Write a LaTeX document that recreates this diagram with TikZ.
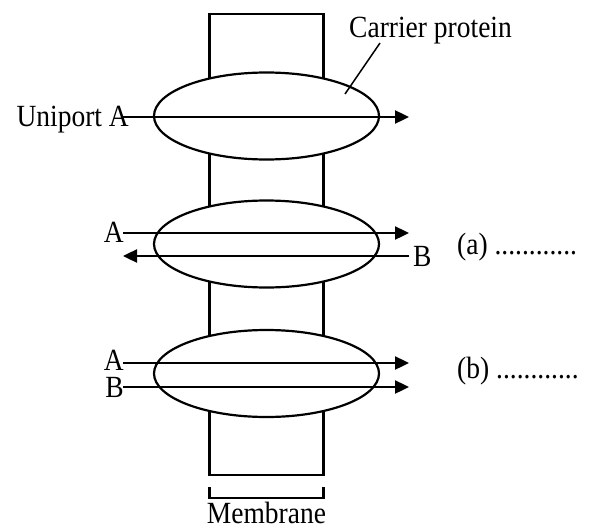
\documentclass[tikz,border=0pt]{standalone}
\usepackage{fontspec}
\setmainfont{Liberation Serif}
\usetikzlibrary{shapes.geometric,arrows.meta}
\newcommand{\tallt}[1]{\scalebox{1}[1.12]{#1}}
\begin{document}
\begin{tikzpicture}[x=1pt,y=-1pt,
  lbl/.style={inner sep=0pt,font=\fontsize{27.5}{30}\selectfont},
  carrier/.style={ellipse,draw,line width=2.2pt,fill=white,minimum width=225pt,minimum height=87pt,inner sep=0pt},
  flow/.style={line width=2.4pt,-{Triangle[length=14pt,width=13pt]}},
  thin/.style={line width=2.2pt}]
\useasboundingbox (0,0) rectangle (595,530);
% membrane
\node[draw,thin,minimum width=114pt,minimum height=461pt,inner sep=0pt] (mem) at (266.5,244.5) {};
% carriers
\node[carrier] (c1) at (266.5,116) {};
\node[carrier] (c2) at (266.5,244) {};
\node[carrier] (c3) at (266.5,373.5) {};
% uniport
\node[lbl,anchor=base east] (uni) at (129,126) {\tallt{Uniport A}};
\coordinate (u1) at (123,117);
\coordinate (u2) at (409,117);
\draw[flow] (u1) -- (u2);
\node[lbl,anchor=base west] (cp) at (349,37) {\tallt{Carrier protein}};
\coordinate (cpa) at (380,43);
\coordinate (cpb) at (345,94);
\draw[line width=1.5pt] (cpa) -- (cpb);
% antiport
\node[lbl,anchor=base east] (a2) at (124,242) {\tallt{A}};
\coordinate (a2s) at (123,233);
\coordinate (a2e) at (409,233);
\draw[flow] (a2s) -- (a2e);
\node[lbl,anchor=base west] (b2) at (413,266) {\tallt{B}};
\coordinate (b2s) at (409,256);
\coordinate (b2e) at (123,256);
\draw[flow] (b2s) -- (b2e);
\node[lbl,anchor=base west] (qa) at (457,254) {\tallt{(a) ............}};
% symport
\node[lbl,anchor=base east] (a3) at (124,370) {\tallt{A}};
\coordinate (a3s) at (123,363);
\coordinate (a3e) at (409,363);
\draw[flow] (a3s) -- (a3e);
\node[lbl,anchor=base east] (b3) at (124,397) {\tallt{B}};
\coordinate (b3s) at (123,387);
\coordinate (b3e) at (409,387);
\draw[flow] (b3s) -- (b3e);
\node[lbl,anchor=base west] (qb) at (457,378) {\tallt{(b) ............}};
% bracket
\coordinate (k1) at (209.5,487);
\coordinate (k2) at (209.5,498);
\coordinate (k3) at (323.5,498);
\coordinate (k4) at (323.5,487);
\draw[thin] (k1) -- (k2) -- (k3) -- (k4);
\node[lbl,anchor=base] (mlab) at (266.5,523) {\tallt{Membrane}};
\end{tikzpicture}
\end{document}
